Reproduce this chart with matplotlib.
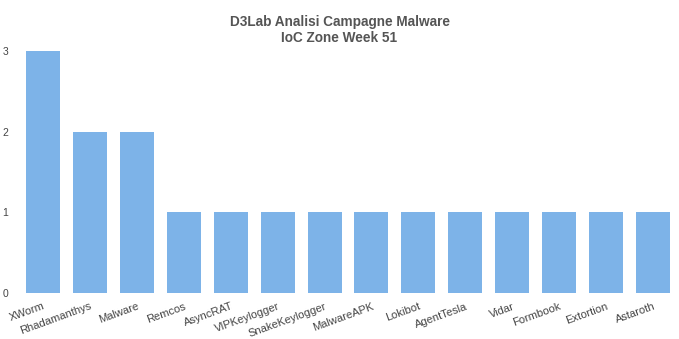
import matplotlib
matplotlib.use("Agg")
import matplotlib.pyplot as plt
import matplotlib.transforms as mtransforms

categories = ["XWorm", "Rhadamanthys", "Malware", "Remcos", "AsyncRAT", "VIPKeylogger",
              "SnakeKeylogger", "MalwareAPK", "Lokibot", "AgentTesla", "Vidar",
              "Formbook", "Extortion", "Astaroth"]
values = [3, 2, 2, 1, 1, 1, 1, 1, 1, 1, 1, 1, 1, 1]
yticks = [0, 1, 2, 3]

plt.rcParams['font.family'] = ['Liberation Sans', 'DejaVu Sans']
fig = plt.figure(figsize=(6.79, 3.39), dpi=100)
ax = fig.add_axes([19.5/679, 1 - 293/339, 657/679, 242/339])
x = range(len(categories))
ax.bar(x, values, width=0.725, color="#7db3e8")
ax.set_xlim(-0.5, len(categories) - 0.5)
ax.set_ylim(0, 3)
ax.set_yticks(yticks)
ax.set_yticklabels([str(t) for t in yticks], fontsize=7.5, color="#444444")
ax.set_xticks(list(x))
ax.set_xticklabels(categories, rotation=20, ha="right", va="top",
                   rotation_mode="anchor", fontsize=8, color="#444444")
offset = mtransforms.ScaledTranslation(3/100, 0, fig.dpi_scale_trans)
for lbl in ax.get_xticklabels():
    lbl.set_transform(lbl.get_transform() + offset)
ax.tick_params(axis="both", length=0)
ax.tick_params(axis="y", pad=8)
ax.tick_params(axis="x", pad=6)
for s in ax.spines.values():
    s.set_visible(False)
fig.text(0.5, 1 - 30/339, "D3Lab Analisi Campagne Malware\nIoC Zone Week 51",
         ha="center", va="center", fontsize=9.8, fontweight="bold",
         color="#555555", linespacing=1.2)
fig.savefig("out.png", dpi=100)
